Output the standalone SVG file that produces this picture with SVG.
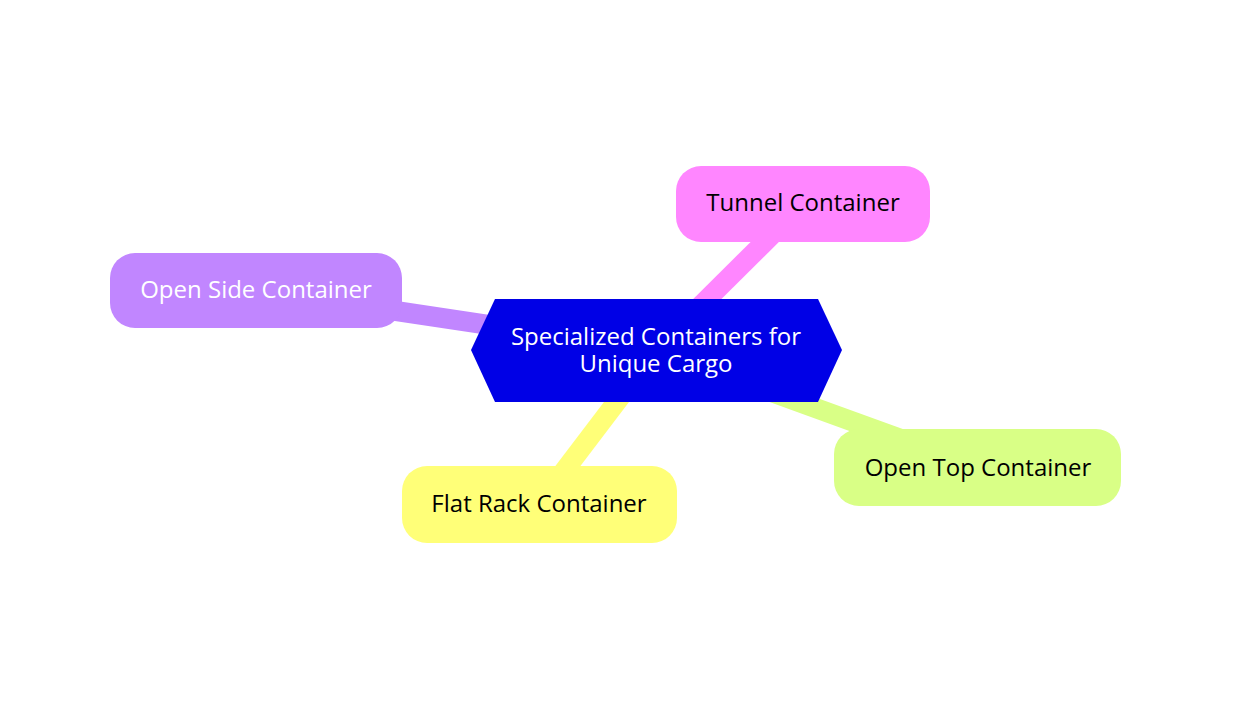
<svg xmlns="http://www.w3.org/2000/svg" width="1254" height="716" viewBox="0 0 1254 716">
<style>
.edge{fill:none;stroke-width:20;stroke-linecap:butt}
.lbl{font-family:"Open Sans","Noto Sans",sans-serif;font-size:24px;text-anchor:middle;dominant-baseline:central}
</style>
<rect width="1254" height="716" fill="#ffffff"/>
<g id="connectors">
<line class="edge" x1="256" y1="290" x2="656" y2="350" stroke="#C186FF"/>
<line class="edge" x1="803" y1="204" x2="656" y2="350" stroke="#FF86FF"/>
<line class="edge" x1="539" y1="504" x2="656" y2="350" stroke="#FFFF78"/>
<line class="edge" x1="978" y1="467" x2="656" y2="350" stroke="#D9FF86"/>
</g>
<g id="root">
<polygon points="471,350 495,299 818,299 842,350 818,402 495,402" fill="#0000E6"/>
<text class="lbl" fill="#ffffff"><tspan x="656" y="335">Specialized Containers for</tspan><tspan x="656" y="362">Unique Cargo</tspan></text>
</g>
<g id="open-side">
<rect x="110" y="253" width="292" height="75" rx="25" fill="#C186FF"/>
<text class="lbl" x="256" y="288" fill="#ffffff">Open Side Container</text>
</g>
<g id="tunnel">
<rect x="676" y="166" width="254" height="76" rx="25" fill="#FF86FF"/>
<text class="lbl" x="803" y="201" fill="#000000">Tunnel Container</text>
</g>
<g id="flat-rack">
<rect x="402" y="466" width="275" height="77" rx="25" fill="#FFFF78"/>
<text class="lbl" x="539" y="502" fill="#000000">Flat Rack Container</text>
</g>
<g id="open-top">
<rect x="834" y="429" width="287" height="77" rx="25" fill="#D9FF86"/>
<text class="lbl" x="978" y="466" fill="#000000">Open Top Container</text>
</g>
</svg>
